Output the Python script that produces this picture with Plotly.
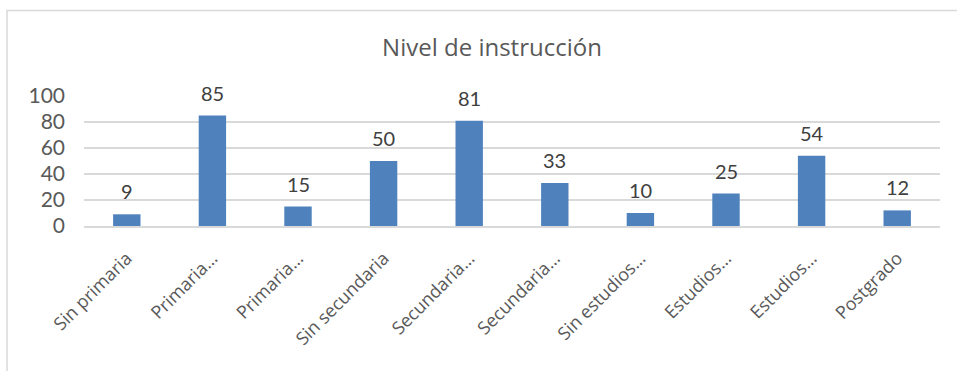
import plotly.graph_objects as go

categorias = ["Sin primaria", "Primaria…", "Primaria…", "Sin secundaria", "Secundaria…",
              "Secundaria…", "Sin estudios…", "Estudios…", "Estudios…", "Postgrado"]
valores = [9, 85, 15, 50, 81, 33, 10, 25, 54, 12]
y_ticks = [0, 20, 40, 60, 80, 100]

posiciones = list(range(len(categorias)))

fig = go.Figure()
fig.add_trace(go.Bar(
    x=posiciones, y=valores,
    marker=dict(color="#4f81bd", line=dict(width=0)),
    width=0.32,
    hoverinfo="skip",
))

# etiquetas de valor sobre cada barra
for x, v in zip(posiciones, valores):
    fig.add_annotation(x=x, y=v, text=str(v), showarrow=False,
                       yanchor="bottom", yshift=9,
                       font=dict(family="Lato, Carlito, sans-serif", size=20, color="#404040"))

fig.update_layout(
    width=957, height=371,
    margin=dict(l=84, r=17, t=96, b=145),
    paper_bgcolor="white", plot_bgcolor="white",
    showlegend=False,
    title=dict(text="Nivel de instrucción", xref="container", x=492 / 957, xanchor="center",
               y=1 - 48 / 371, yanchor="middle",
               font=dict(family="Open Sans, sans-serif", size=24, color="#595959")),
    xaxis=dict(tickmode="array", tickvals=posiciones, ticktext=categorias,
               tickangle=-45, range=[-0.5, len(categorias) - 0.5],
               showgrid=False, showline=True, linecolor="#d9d9d9", linewidth=1.5,
               ticks="", zeroline=False, ticklabelstandoff=13,
               tickfont=dict(family="Open Sans, sans-serif", size=18, color="#595959")),
    yaxis=dict(range=[0, 100], tickvals=y_ticks, showgrid=True, gridcolor="#d9d9d9",
               gridwidth=1.5, zeroline=False, showline=False, ticks="",
               ticklabelstandoff=18,
               tickfont=dict(family="Lato, Carlito, sans-serif", size=21, color="#595959")),
    shapes=[
        # marco del área del gráfico (abierto a la derecha y abajo)
        dict(type="rect", xref="paper", yref="paper",
             x0=-77 / 856, x1=1 + 40 / 856, y0=-(371 - 226 + 20) / 130, y1=1 + 85.5 / 130,
             line=dict(color="#d9d9d9", width=1.5), fillcolor="rgba(0,0,0,0)", layer="below"),
    ],
)

fig.write_html("out.html")
